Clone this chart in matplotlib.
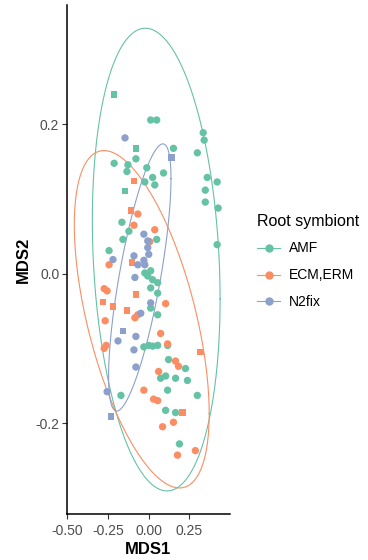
import numpy as np
import matplotlib
matplotlib.use('Agg')
import matplotlib.pyplot as plt
from matplotlib.lines import Line2D

plt.rcParams['font.family'] = ['Liberation Sans', 'DejaVu Sans']

# ── data (MDS1, MDS2) ────────────────────────────────────────────────────────
amf_x = [-0.213, 0.012, 0.049, 0.335, 0.341, -0.079, 0.152, 0.299, -0.213, -0.079,
         -0.128, -0.134, -0.012, 0.024, 0.091, -0.024, 0.037, 0.360, 0.421, -0.146,
         0.348, 0.348, 0.427, -0.165, -0.122, -0.159, 0.049, 0.421, -0.244, -0.024,
         0.012, -0.006, 0.024, 0.055, 0.012, 0.055, 0.012, 0.055, -0.030, 0.000,
         0.024, 0.055, 0.116, 0.122, 0.226, 0.073, 0.104, 0.165, 0.238, 0.116,
         -0.171, 0.299, 0.104, 0.165, 0.189]
amf_y = [0.240, 0.206, 0.206, 0.189, 0.179, 0.168, 0.168, 0.162, 0.148, 0.154,
         0.146, 0.137, 0.142, 0.129, 0.135, 0.123, 0.119, 0.129, 0.123, 0.111,
         0.112, 0.096, 0.088, 0.069, 0.057, 0.046, 0.046, 0.039, 0.031, 0.001,
         0.004, -0.003, -0.008, -0.012, -0.019, -0.026, -0.046, -0.055, -0.098, -0.096,
         -0.097, -0.096, -0.096, -0.115, -0.127, -0.140, -0.137, -0.140, -0.143, -0.156,
         -0.163, -0.163, -0.183, -0.186, -0.228]
amf_shape = ['s', 'o', 'o', 'o', 'o', 's', 'o', 'o', 'o', 'o',
             'o', 'o', 'o', 'o', 'o', 'o', 'o', 'o', 'o', 's',
             'o', 'o', 'o', 'o', 'o', 'o', 'o', 'o', 'o', 'o',
             'o', 'o', 'o', 'o', 'o', 'o', 'o', 'o', 'o', 'o',
             'o', 'o', 'o', 'o', 'o', 'o', 'o', 'o', 'o', 'o',
             'o', 'o', 'o', 'o', 'o']

ecm_x = [-0.091, -0.110, -0.067, -0.091, 0.037, 0.006, -0.244, -0.104, -0.274, -0.256,
         -0.280, -0.220, -0.079, -0.134, -0.067, -0.085, 0.104, -0.268, 0.073, -0.274,
         -0.262, 0.116, 0.317, 0.165, 0.183, 0.061, -0.030, 0.030, 0.055, 0.207,
         0.152, 0.085, 0.177, 0.287]
ecm_y = [0.124, 0.085, 0.080, 0.065, 0.059, 0.043, 0.012, 0.015, -0.020, -0.023,
         -0.038, -0.044, -0.028, -0.049, -0.055, -0.059, -0.040, -0.063, -0.080, -0.100,
         -0.096, -0.094, -0.105, -0.117, -0.124, -0.131, -0.156, -0.168, -0.170, -0.186,
         -0.199, -0.205, -0.243, -0.237]
ecm_shape = ['s', 's', 'o', 'o', 'o', 'o', 'o', 's', 'o', 'o',
             's', 's', 's', 's', 'o', 'o', 'o', 'o', 'o', 'o',
             'o', 'o', 's', 'o', 'o', 'o', 'o', 'o', 'o', 's',
             'o', 'o', 'o', 'o']

n2_x = [-0.146, 0.140, -0.030, -0.006, -0.006, 0.000, -0.030, -0.220, -0.091, -0.067,
        -0.024, -0.085, 0.012, -0.049, -0.159, -0.189, -0.079, -0.091, -0.079, -0.256,
        -0.232]
n2_y = [0.182, 0.156, 0.053, 0.044, 0.035, 0.026, 0.018, 0.019, 0.024, 0.012,
        0.012, -0.005, -0.039, -0.053, -0.077, -0.090, -0.084, -0.102, -0.125, -0.158,
        -0.191]
n2_shape = ['o', 's', 'o', 'o', 'o', 'o', 'o', 'o', 'o', 'o',
            'o', 'o', 'o', 'o', 's', 'o', 'o', 'o', 'o', 'o',
            's']

# 95% ellipses: centre x, centre y, half-width x, half-height y, correlation
ell_cx = [0.046, -0.043, -0.055]
ell_cy = [0.019, -0.061, -0.005]
ell_sx = [0.393, 0.415, 0.192]
ell_sy = [0.310, 0.226, 0.179]
ell_rho = [-0.17, -0.56, 0.74]

groups = ['AMF', 'ECM,ERM', 'N2fix']
colors = ['#66C2A5', '#FC8D62', '#8DA0CB']

# ── figure ────────────────────────────────────────────────────────────────────
fig = plt.figure(figsize=(3.68, 5.6), dpi=100)
ax = fig.add_axes([0.182, 0.082, 0.443, 0.909])

series = [(amf_x, amf_y, amf_shape), (ecm_x, ecm_y, ecm_shape), (n2_x, n2_y, n2_shape)]
for (xs, ys, shapes), col in zip(series, colors):
    xs, ys, shapes = np.array(xs), np.array(ys), np.array(shapes)
    for m in ('o', 's'):
        sel = shapes == m
        ax.scatter(xs[sel], ys[sel], s=28 if m == 'o' else 22, marker=m,
                   color=col, edgecolors='none', zorder=3)

t = np.linspace(0, 2 * np.pi, 300)
for i, col in enumerate(colors):
    r = ell_rho[i]
    ex = ell_cx[i] + ell_sx[i] * np.cos(t)
    ey = ell_cy[i] + ell_sy[i] * (r * np.cos(t) + np.sqrt(1 - r ** 2) * np.sin(t))
    ax.plot(ex, ey, color=col, lw=0.8, zorder=2)

ax.set_xlim(-0.503, 0.5)
ax.set_ylim(-0.322, 0.36)
ax.set_xticks([-0.5, -0.25, 0, 0.25])
ax.set_xticklabels(['-0.50', '-0.25', '0.00', '0.25'])
ax.set_yticks([-0.2, 0, 0.2])
ax.set_yticklabels(['-0.2', '0.0', '0.2'])
for sp in ('top', 'right'):
    ax.spines[sp].set_visible(False)
for sp in ('left', 'bottom'):
    ax.spines[sp].set_linewidth(1.1)
ax.tick_params(length=3.5, width=0.8, color='#333333', labelsize=10,
               labelcolor='#4D4D4D', pad=2)
ax.tick_params(axis='x', pad=3.5)
ax.set_xlabel('MDS1', fontsize=12, fontweight='bold', labelpad=3)
ax.set_ylabel('MDS2', fontsize=12, fontweight='bold', labelpad=3)

handles = [Line2D([], [], color=c, lw=0.8, marker='o', markersize=5) for c in colors]
leg = fig.legend(handles, groups, title='Root symbiont', loc='upper left',
                 bbox_to_anchor=(0.664, 0.641), frameon=False, fontsize=10,
                 title_fontsize=11.5, handlelength=1.7, labelspacing=0.93,
                 alignment='left', handletextpad=0.6)

fig.savefig('out.png', dpi=100)
